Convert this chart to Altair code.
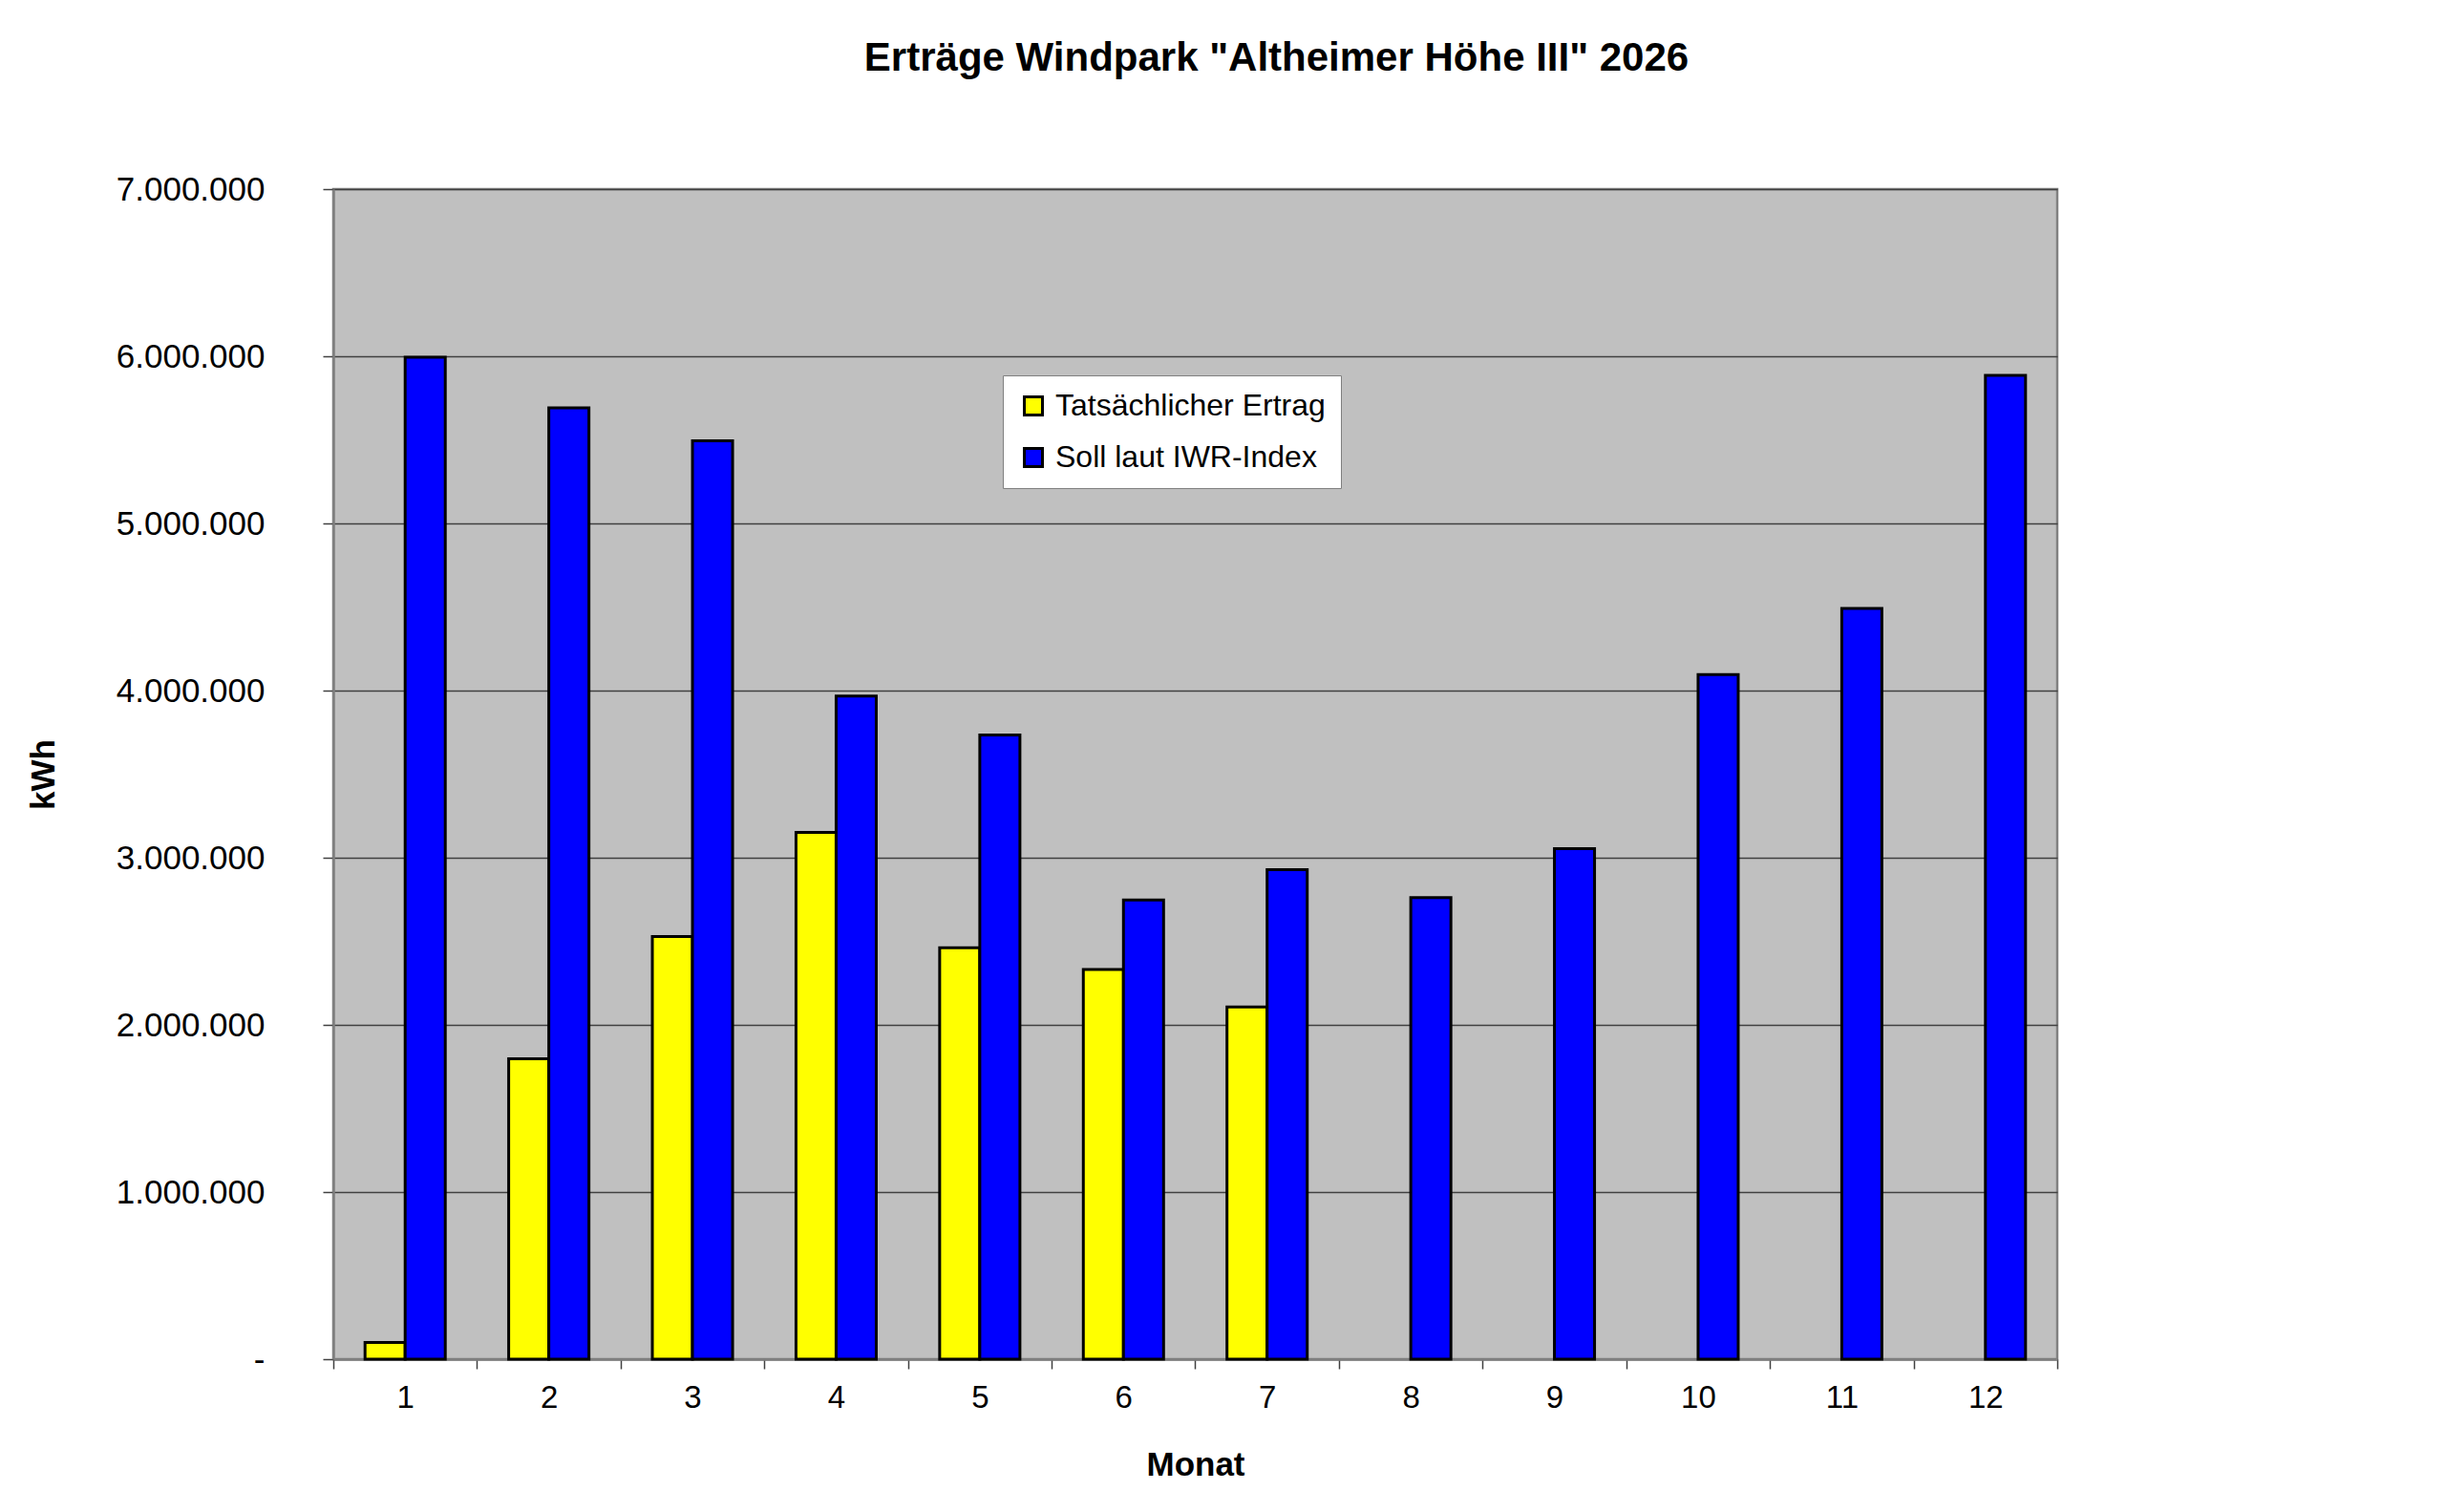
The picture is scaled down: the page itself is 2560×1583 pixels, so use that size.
import altair as alt
import pandas as pd

# ---- data ----
months = [str(m) for m in range(1, 13)]
actual = [100000, 1797000, 2528000, 3152000, 2461000, 2332000, 2107000,
          None, None, None, None, None]
target = [5995000, 5692000, 5494000, 3967000, 3735000, 2747000, 2928000,
          2762000, 3055000, 4096000, 4491000, 5886000]
series_names = ["Tatsächlicher Ertrag", "Soll laut IWR-Index"]
series_colors = ["#FFFF00", "#0000FF"]
y_ticks = [0, 1000000, 2000000, 3000000, 4000000, 5000000, 6000000, 7000000]
title_text = 'Erträge Windpark "Altheimer Höhe III" 2026'

rows = []
for m, a, t in zip(months, actual, target):
    if a is not None:
        rows.append({"Monat": m, "Serie": series_names[0], "kWh": a})
    rows.append({"Monat": m, "Serie": series_names[1], "kWh": t})
df = pd.DataFrame(rows)

FONT = "Liberation Sans"

chart = alt.Chart(df).mark_bar(
    stroke="black", strokeWidth=3, opacity=1
).encode(
    x=alt.X(
        "Monat:N",
        sort=months,
        scale=alt.Scale(paddingInner=0, paddingOuter=0),
        axis=alt.Axis(
            title="Monat",
            labelAngle=0,
            tickBand="extent",
            tickSize=10,
            tickColor="#404040",
            tickWidth=1.5,
            domainColor="#808080",
            domainWidth=2.5,
            labelFontSize=33,
            labelFont=FONT,
            labelColor="black",
            labelPadding=14,
            titleFontSize=35,
            titleFont=FONT,
            titleFontWeight="bold",
            titleColor="black",
            titlePadding=36,
        ),
    ),
    xOffset=alt.XOffset(
        "Serie:N",
        sort=series_names,
        scale=alt.Scale(domain=series_names, paddingInner=0, paddingOuter=0.79),
    ),
    y=alt.Y(
        "kWh:Q",
        scale=alt.Scale(domain=[0, 7000000], nice=False, zero=True),
        axis=alt.Axis(
            values=y_ticks,
            labelExpr="datum.value == 0 ? '-' : replace(format(datum.value, ','), regexp(',', 'g'), '.')",
            grid=True,
            gridColor="#404040",
            gridWidth=1.5,
            tickSize=11,
            tickColor="#404040",
            tickWidth=1.5,
            domainColor="#808080",
            domainWidth=2.5,
            labelFontSize=35,
            labelFont=FONT,
            labelColor="black",
            labelPadding=61,
            title="kWh",
            titleFontSize=35,
            titleFont=FONT,
            titleFontWeight="bold",
            titleColor="black",
            titlePadding=86,
        ),
    ),
    color=alt.Color(
        "Serie:N",
        sort=series_names,
        scale=alt.Scale(domain=series_names, range=series_colors),
        legend=alt.Legend(
            title=None,
            orient="none",
            legendX=701,
            legendY=195,
            fillColor="white",
            strokeColor="#808080",
            padding=16,
            symbolType="square",
            symbolSize=361,
            symbolStrokeColor="black",
            symbolStrokeWidth=3,
            symbolOpacity=1,
            labelFontSize=32,
            labelFont=FONT,
            labelColor="black",
            labelOffset=7,
            labelLimit=0,
            rowPadding=22,
        ),
    ),
).properties(
    width=1805,
    height=1225,
    background="white",
    title=alt.TitleParams(
        text=title_text,
        font=FONT,
        fontSize=42,
        fontWeight="bold",
        color="black",
        anchor="middle",
        baseline="alphabetic",
        dx=85,
        offset=65,
    ),
    autosize=alt.AutoSizeParams(type="none"),
    padding={"left": 341, "top": 190, "right": 390, "bottom": 140},
).configure_view(
    fill="#C0C0C0", stroke="#808080", strokeWidth=2.5
)

chart.save("out.html", embed_options={"renderer": "svg", "actions": False})
